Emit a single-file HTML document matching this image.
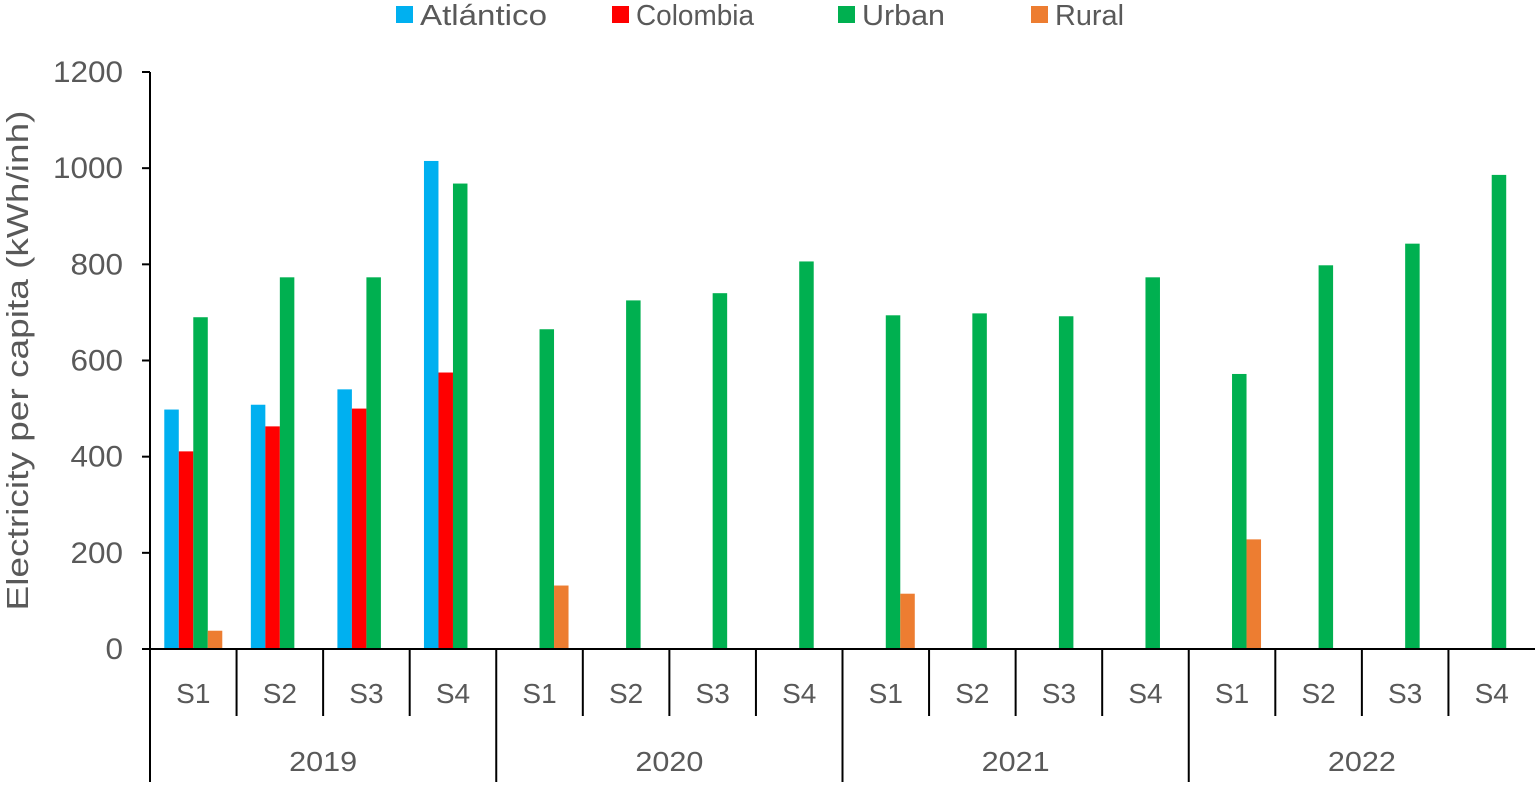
<!DOCTYPE html>
<html><head><meta charset="utf-8"><style>
body{margin:0;background:#fff;}
svg text{font-family:"Liberation Sans",sans-serif;fill:#595959;}
</style></head><body>
<svg id="chart" width="1535" height="782" xmlns="http://www.w3.org/2000/svg"></svg>
<script>
const categories=["S1","S2","S3","S4","S1","S2","S3","S4","S1","S2","S3","S4","S1","S2","S3","S4"];
const years=["2019","2020","2021","2022"];
const atlantico=[498,508,540,1015,null,null,null,null,null,null,null,null,null,null,null,null];
const colombia=[411,463,500,575,null,null,null,null,null,null,null,null,null,null,null,null];
const urban=[690,773,773,968,665,725,740,806,694,698,692,773,572,798,843,986];
const rural=[38,null,null,null,132,null,null,null,115,null,null,null,228,null,null,null];
const yTicks=[0,200,400,600,800,1000,1200];
const seriesNames=["Atlántico","Colombia","Urban","Rural"];
const seriesColors=["#00b0f0","#ff0000","#00b050","#ed7d31"];
const series=[atlantico,colombia,urban,rural];

const svg=document.getElementById('chart');
const NS="http://www.w3.org/2000/svg";
const X0=150,X1=1535,Y0=649,Y1=72,YMAX=1200;
const catW=(X1-X0)/categories.length;
const barW=14.5;
function y(v){return Y0-(v/YMAX)*(Y0-Y1);}
function mk(t,a,txt){const e=document.createElementNS(NS,t);for(const k in a)e.setAttribute(k,a[k]);if(txt!=null)e.textContent=txt;svg.appendChild(e);return e;}

yTicks.forEach(v=>{
  let l=mk('line',{x1:X0-8,x2:X0,y1:y(v),y2:y(v),stroke:'#000','stroke-width':2});
  
  
  let t=mk('text',{x:X0-27,y:y(v)+10,'text-anchor':'end','font-size':30,textLength:String(v).length*17.5,lengthAdjust:'spacingAndGlyphs'},v);
  
  
});
let yt=mk('text',{x:0,y:0,'font-size':31,'text-anchor':'middle',textLength:500,lengthAdjust:'spacingAndGlyphs',transform:`translate(28,${(Y0+Y1)/2}) rotate(-90)`},'Electricity per capita (kWh/inh)');



series.forEach((s,si)=>{
  s.forEach((v,i)=>{
    if(v==null)return;
    const cx=X0+catW*(i+0.5);
    const bx=cx-2*barW+si*barW;
    let r=mk('rect',{x:bx,y:y(v),width:barW,height:Y0-y(v),fill:seriesColors[si]});
    
    
  });
});

let ya=mk('line',{x1:X0,x2:X0,y1:Y1,y2:782,stroke:'#000','stroke-width':2});


let xa=mk('line',{x1:X0,x2:X1,y1:Y0,y2:Y0,stroke:'#000','stroke-width':2});


categories.forEach((c,i)=>{
  const xr=X0+catW*(i+1);
  if(i<categories.length-1){
    let l=mk('line',{x1:xr,x2:xr,y1:Y0,y2:(i%4==3)?782:716,stroke:'#000','stroke-width':2});
    
    
  }
  let t=mk('text',{x:X0+catW*(i+0.5),y:703,'text-anchor':'middle','font-size':28},c);
  
  
});
years.forEach((yr,i)=>{
  let t=mk('text',{x:X0+catW*(i*4+2),y:771,'text-anchor':'middle','font-size':28,textLength:68,lengthAdjust:'spacingAndGlyphs'},yr);
  
  
});

const legX=[396,612,838,1031];
const legW=[127,118,83,69];
seriesNames.forEach((n,i)=>{
  let r=mk('rect',{x:legX[i],y:6,width:17,height:17,fill:seriesColors[i]});
  
  
  let t=mk('text',{x:legX[i]+24,y:25,'font-size':29,textLength:legW[i],lengthAdjust:'spacingAndGlyphs'},n);
  
  
});
</script>
</body></html>
